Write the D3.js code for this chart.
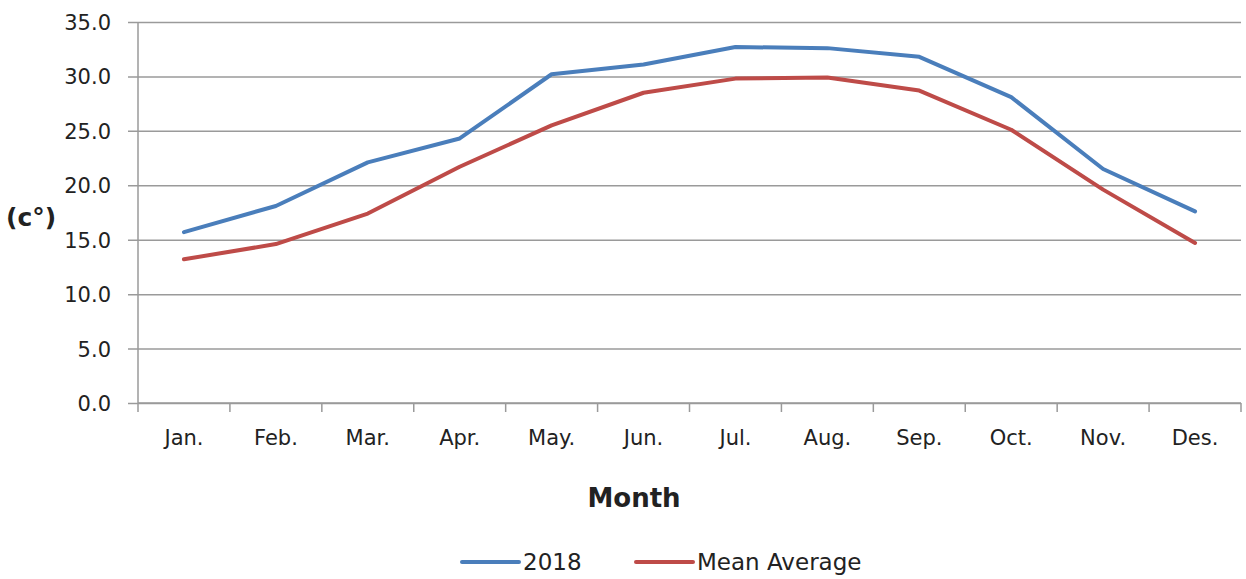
<!DOCTYPE html>
<html>
<head>
<meta charset="utf-8">
<script src="https://cdn.jsdelivr.net/npm/d3@7"></script>
<style>
  body { margin: 0; background: #fff; }
  svg text { font-family: "DejaVu Sans", sans-serif; fill: #222; }
  .axis path, .axis line { stroke: #9a9a9a; stroke-width: 1.5; }
  .axis text { font-size: 21px; }
</style>
</head>
<body>
<svg id="chart" width="1246" height="579"></svg>
<script>
var months   = ["Jan.", "Feb.", "Mar.", "Apr.", "May.", "Jun.", "Jul.", "Aug.", "Sep.", "Oct.", "Nov.", "Des."];
var temp2018 = [15.7, 18.1, 22.1, 24.3, 30.2, 31.1, 32.7, 32.6, 31.8, 28.1, 21.5, 17.6];
var meanAvg  = [13.2, 14.6, 17.4, 21.7, 25.5, 28.5, 29.8, 29.9, 28.7, 25.1, 19.6, 14.7];
var yTicks   = [0, 5, 10, 15, 20, 25, 30, 35];

var series = [
  {name: "2018",         values: temp2018, color: "#4a7ebb"},
  {name: "Mean Average", values: meanAvg,  color: "#be4b48"}
];

var svg = d3.select("#chart"),
    margin = {top: 22, right: 5, bottom: 176, left: 138},
    width  = +svg.attr("width") - margin.left - margin.right,
    height = +svg.attr("height") - margin.top - margin.bottom;

var g = svg.append("g").attr("transform", "translate(" + margin.left + "," + margin.top + ")");

var x = d3.scaleBand().domain(months).range([0, width]);
var y = d3.scaleLinear().domain([0, 35]).range([height, 0]);

// gridlines + y axis
var yAxis = g.append("g")
    .attr("class", "axis axis--y")
    .call(d3.axisLeft(y).tickValues(yTicks).tickFormat(d3.format(".1f"))
            .tickSizeInner(-width).tickSizeOuter(0));
yAxis.select(".domain").remove();
yAxis.selectAll(".tick line").attr("x1", -10);
yAxis.selectAll("text").attr("x", -27).attr("dy", "0.36em");
g.append("line")
    .attr("x1", 0).attr("x2", 0).attr("y1", 0).attr("y2", height)
    .attr("stroke", "#9a9a9a").attr("stroke-width", 1.5);

// x axis, ticks between categories
var xAxis = g.append("g")
    .attr("class", "axis axis--x")
    .attr("transform", "translate(0," + height + ")")
    .call(d3.axisBottom(x).tickSize(0).tickPadding(31));
xAxis.selectAll(".domain").attr("d", "M0,0H" + width);
xAxis.selectAll(".tick text").attr("dy", "0.5em");
var bounds = months.map(function(m) { return x(m); }).concat([width]);
xAxis.selectAll(".sep").data(bounds).enter().append("line")
    .attr("class", "sep")
    .attr("x1", function(d) { return d; }).attr("x2", function(d) { return d; })
    .attr("y1", 0).attr("y2", 9);

// lines
var line = d3.line()
    .x(function(d, i) { return x(months[i]) + x.bandwidth() / 2; })
    .y(function(d) { return y(d); });

g.selectAll(".series").data(series).enter().append("path")
    .attr("class", "series")
    .attr("fill", "none")
    .attr("stroke", function(d) { return d.color; })
    .attr("stroke-width", 4)
    .attr("stroke-linejoin", "round")
    .attr("stroke-linecap", "round")
    .attr("d", function(d) { return line(d.values); });

// axis titles
svg.append("text")
    .attr("x", 6).attr("y", 226)
    .attr("font-size", "25px").attr("font-weight", "bold")
    .text("(c°)");
svg.append("text")
    .attr("x", 634).attr("y", 507)
    .attr("text-anchor", "middle")
    .attr("font-size", "26px").attr("font-weight", "bold")
    .text("Month");

// legend
var legendX = [462, 636];
var lg = svg.selectAll(".legend").data(series).enter().append("g")
    .attr("class", "legend")
    .attr("transform", function(d, i) { return "translate(" + legendX[i] + ",562)"; });
lg.append("line")
    .attr("x1", 0).attr("x2", 57)
    .attr("stroke", function(d) { return d.color; })
    .attr("stroke-width", 4).attr("stroke-linecap", "round");
lg.append("text")
    .attr("x", 61).attr("dy", "0.36em")
    .attr("font-size", "23px")
    .text(function(d) { return d.name; });
</script>
</body>
</html>
